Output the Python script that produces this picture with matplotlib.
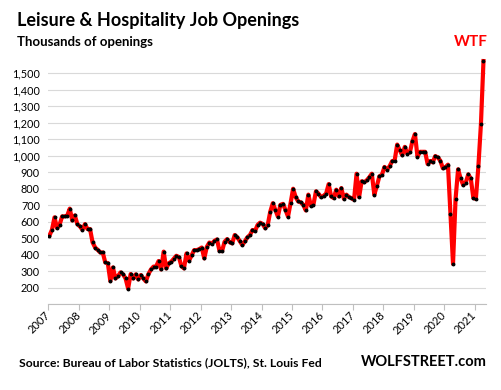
import numpy as np
import matplotlib.pyplot as plt

# Leisure & Hospitality job openings, thousands, monthly Jan 2007 - Apr 2021
openings_2007 = [515, 551, 626, 561, 581, 632, 632, 636, 679, 607, 638, 585]
openings_2008 = [571, 551, 585, 555, 555, 474, 443, 429, 413, 413, 352, 348]
openings_2009 = [239, 322, 255, 269, 292, 280, 255, 194, 282, 255, 280, 249]
openings_2010 = [276, 255, 237, 282, 310, 327, 327, 361, 310, 418, 316, 347]
openings_2011 = [357, 375, 393, 385, 330, 316, 407, 363, 395, 427, 427, 433]
openings_2012 = [443, 377, 447, 473, 467, 483, 492, 423, 421, 478, 494, 475]
openings_2013 = [468, 519, 505, 482, 458, 482, 505, 519, 549, 543, 580, 594]
openings_2014 = [586, 560, 580, 661, 712, 671, 631, 702, 708, 671, 631, 712]
openings_2015 = [800, 749, 723, 717, 703, 668, 764, 697, 703, 784, 770, 749]
openings_2016 = [757, 770, 828, 753, 743, 794, 753, 804, 739, 764, 749, 743]
openings_2017 = [733, 891, 749, 845, 839, 851, 869, 891, 764, 818, 875, 885]
openings_2018 = [932, 916, 936, 967, 971, 1068, 1034, 1003, 1054, 1013, 1021, 1088]
openings_2019 = [1132, 995, 1024, 1024, 1024, 950, 968, 960, 998, 990, 970, 924]
openings_2020 = [930, 946, 646, 343, 738, 918, 862, 822, 836, 887, 862, 745]
openings_2021 = [738, 938, 1193, 1575]

year_ticks = list(range(2007, 2022))
y_ticks = list(range(200, 1600, 100))

openings = np.array(openings_2007 + openings_2008 + openings_2009 + openings_2010
                    + openings_2011 + openings_2012 + openings_2013 + openings_2014
                    + openings_2015 + openings_2016 + openings_2017 + openings_2018
                    + openings_2019 + openings_2020 + openings_2021)
months = 2007 + (np.arange(len(openings)) + 0.45) / 12

plt.rcParams['font.family'] = ['Lato', 'DejaVu Sans']

fig = plt.figure(figsize=(5.02, 3.90), dpi=100)
ax = fig.add_axes([0.0962, 0.2205, 0.8713, 0.6335])

for v in [100] + y_ticks:
    ax.axhline(v, color='#d9d9d9', lw=0.8, zorder=0)

ax.plot(months, openings, color='#ff0000', lw=3.0, zorder=2, solid_joinstyle='round')
ax.plot(months, openings, 'o', color='black', ms=1.8, zorder=3)

ax.set_xlim(2007, 2021.36)
ax.set_ylim(100, 1600)
ax.set_yticks(y_ticks)
ax.set_yticklabels(['{:,}'.format(v) for v in y_ticks], fontsize=7.8)
ax.tick_params(axis='y', length=0, pad=6)
ax.set_xticks(year_ticks)
ax.set_xticklabels([str(y) for y in year_ticks], fontsize=8, rotation=45,
                   ha='right', va='center', rotation_mode='anchor')
ax.tick_params(axis='x', length=4, width=0.8, color='#bfbfbf', pad=3)

for side in ['top', 'right', 'left']:
    ax.spines[side].set_visible(False)
ax.spines['bottom'].set_color('#bfbfbf')
ax.spines['bottom'].set_linewidth(0.8)

fig.text(0.034, 0.948, 'Leisure & Hospitality Job Openings', fontsize=13,
         fontweight='bold', va='center', ha='left')
fig.text(0.034, 0.892, 'Thousands of openings', fontsize=9.5,
         fontweight='bold', va='center', ha='left')
fig.text(0.937, 0.893, 'WTF', fontsize=11, fontweight='bold', color='#ff0000',
         va='center', ha='center')
fig.text(0.038, 0.071, 'Source: Bureau of Labor Statistics (JOLTS), St. Louis Fed',
         fontsize=8.7, fontweight='bold', va='center', ha='left')
fig.text(0.969, 0.071, 'WOLFSTREET.com', fontsize=10.5, fontweight='bold',
         va='center', ha='right')

fig.savefig('out.png', dpi=100)
